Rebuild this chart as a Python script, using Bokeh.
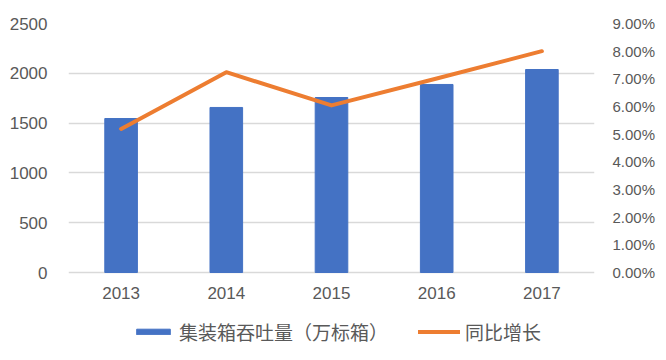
from bokeh.plotting import figure
from bokeh.models import (ColumnDataSource, Range1d, LinearAxis, FixedTicker,
                          NumeralTickFormatter, Legend, LegendItem, FactorRange)
from bokeh.embed import file_html
from bokeh.resources import INLINE

years = ["2013", "2014", "2015", "2016", "2017"]
throughput = [1546, 1657, 1757, 1888, 2038]
growth = [0.0519, 0.0724, 0.0604, 0.0701, 0.0800]
left_ticks = [0, 500, 1000, 1500, 2000, 2500]
right_ticks = [0.00, 0.01, 0.02, 0.03, 0.04, 0.05, 0.06, 0.07, 0.08, 0.09]
bar_label = "集装箱吞吐量（万标箱）"
line_label = "同比增长"

FONT = "Liberation Sans"
TXT = "#595959"
GRID = "#D9D9D9"

# layout: plot area of the bars is 249 px tall; frame extends lower to host the legend
W, H = 658, 352
TOP, LEFT, RIGHT = 23, 68, 64
BAR_AREA = 249
frame_h = H - TOP
low = -(frame_h - BAR_AREA) * 2500 / BAR_AREA

src = ColumnDataSource(dict(year=years, val=throughput, g=growth))

p = figure(x_range=FactorRange(*years, range_padding=0), y_range=Range1d(low, 2500),
           width=W, height=H, output_backend="svg", toolbar_location=None,
           min_border_left=LEFT, min_border_right=RIGHT, min_border_top=TOP, min_border_bottom=0)
p.outline_line_color = None
p.extra_y_ranges = {"right": Range1d(low * 0.09 / 2500, 0.09)}

bars = p.vbar(x="year", top="val", width=0.31, source=src, color="#4472C4")
line = p.line(x="year", y="g", source=src, y_range_name="right",
              line_color="#ED7D31", line_width=4, line_cap="round", line_join="round")

ya = p.yaxis[0]
ya.ticker = FixedTicker(ticks=left_ticks)
ya.axis_line_color = None
ya.major_tick_line_color = None
ya.minor_tick_line_color = None
ya.major_label_standoff = 15
ya.major_label_text_font = FONT
ya.major_label_text_font_size = "17px"
ya.major_label_text_color = TXT

ra = LinearAxis(y_range_name="right", ticker=FixedTicker(ticks=right_ticks),
                formatter=NumeralTickFormatter(format="0.00%"))
ra.axis_line_color = None
ra.major_tick_line_color = None
ra.minor_tick_line_color = None
ra.major_label_standoff = 12
ra.major_label_text_font = FONT
ra.major_label_text_font_size = "15px"
ra.major_label_text_color = TXT
p.add_layout(ra, "right")

xa = p.xaxis[0]
xa.fixed_location = 0
xa.axis_line_color = None
xa.major_tick_line_color = None
xa.major_label_standoff = 8
xa.major_label_text_font = FONT
xa.major_label_text_font_size = "17px"
xa.major_label_text_color = TXT

p.xgrid.grid_line_color = None
p.ygrid.grid_line_color = GRID
p.ygrid.grid_line_width = 1.5
p.ygrid.ticker = FixedTicker(ticks=left_ticks)

legend = Legend(items=[LegendItem(label=bar_label, renderers=[bars]),
                       LegendItem(label=line_label, renderers=[line])],
                orientation="horizontal", location=(64, 7),
                glyph_width=42, glyph_height=7, label_standoff=5, spacing=30,
                padding=0, margin=0, border_line_color=None, background_fill_alpha=0,
                label_text_font="Noto Sans CJK SC", label_text_font_size="19px",
                label_text_color=TXT)
p.add_layout(legend, "center")

open("out.html", "w").write(file_html(p, INLINE))
